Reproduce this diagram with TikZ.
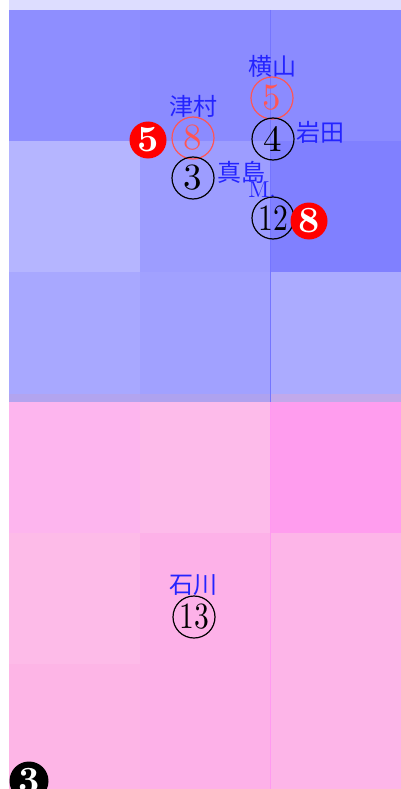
\documentclass[tikz,border=0pt]{standalone}
\usepackage{fontspec}
\usepackage{graphicx}
\newfontfamily\cjk{Noto Sans CJK JP}
\newcommand{\digs}[1]{\scalebox{3.7}{#1}}
\newcommand{\wdigs}[1]{\scalebox{2.96}[3.7]{#1}}
\definecolor{topstrip}{HTML}{DDDDFF}
\definecolor{ba}{HTML}{8E8EFF}
\definecolor{bb}{HTML}{8B8BFF}
\definecolor{bc}{HTML}{8B8BFF}
\definecolor{bd}{HTML}{B5B5FF}
\definecolor{be}{HTML}{9D9DFF}
\definecolor{bf}{HTML}{8080FF}
\definecolor{bg}{HTML}{A8A8FF}
\definecolor{bh}{HTML}{A1A1FF}
\definecolor{bi}{HTML}{ABABFF}
\definecolor{na}{HTML}{B2A4EF}
\definecolor{nb}{HTML}{AEA2EF}
\definecolor{nc}{HTML}{C1A9EB}
\definecolor{pa}{HTML}{FDB5EE}
\definecolor{pb}{HTML}{FDBBEA}
\definecolor{pc}{HTML}{FF9DEE}
\definecolor{pd}{HTML}{FDBBE8}
\definecolor{pe}{HTML}{FDB1E8}
\definecolor{pf}{HTML}{FDB5E8}
\definecolor{pg}{HTML}{FDB5E6}
\definecolor{ph}{HTML}{FDB1E8}
\definecolor{pi}{HTML}{FDB5E8}
\definecolor{bline}{HTML}{7575FF}
\definecolor{pline}{HTML}{FF99F0}
\definecolor{tblue}{HTML}{2424FF}
\definecolor{cred}{HTML}{FF5555}
\begin{document}
\begin{tikzpicture}[x=1pt,y=-1pt,
  cnum/.style={circle, draw, line width=1.2pt, minimum size=42pt, inner sep=0pt, font=\fontsize{10}{10}\selectfont},
  rnum/.style={cnum, draw=cred, text=cred},
  fnum/.style={circle, minimum size=37pt, inner sep=0pt, text=white, font=\bfseries\fontsize{10}{10}\selectfont},
  lbl/.style={text=tblue, inner sep=0pt, font=\cjk\fontsize{24}{24}\selectfont},
  lat/.style={text=tblue, inner sep=0pt, font=\fontsize{10}{10}\selectfont}]
\useasboundingbox (0,0) rectangle (401,789);
\fill[white] (0,0) rectangle (401,789);
\fill[topstrip] (9,0) rectangle (401,10);
% blue grid
\fill[ba] (9,10) rectangle (140,141);
\fill[bb] (140,10) rectangle (270,141);
\fill[bc] (270,10) rectangle (401,141);
\fill[bd] (9,141) rectangle (140,272);
\fill[be] (140,141) rectangle (270,272);
\fill[bf] (270,141) rectangle (401,272);
\fill[bg] (9,272) rectangle (140,394);
\fill[bh] (140,272) rectangle (270,394);
\fill[bi] (270,272) rectangle (401,394);
% overlap band
\fill[na] (9,394) rectangle (140,402);
\fill[nb] (140,394) rectangle (270,402);
\fill[nc] (270,394) rectangle (401,402);
% pink grid
\fill[pa] (9,402) rectangle (140,533);
\fill[pb] (140,402) rectangle (270,533);
\fill[pc] (270,402) rectangle (401,533);
\fill[pd] (9,533) rectangle (140,664);
\fill[pe] (140,533) rectangle (270,664);
\fill[pf] (270,533) rectangle (401,664);
\fill[pg] (9,664) rectangle (140,789);
\fill[ph] (140,664) rectangle (270,789);
\fill[pi] (270,664) rectangle (401,789);
% vertical lines
\draw[bline, line width=1pt] (270,10) -- (270,402);
\draw[pline, line width=1pt] (270,402) -- (270,789);
% labels and markers
\node[lbl] (yokoyama) at (272,66) {横山};
\node[rnum] (r5) at (272,98) {\digs{5}};
\node[cnum] (c4) at (273,139) {\digs{4}};
\node[lbl] (iwata) at (320,132) {岩田};
\node[lbl] (tsumura) at (193,106) {津村};
\node[rnum] (r8) at (193,138) {\digs{8}};
\node[fnum, fill=red] (f5) at (148,140) {\digs{5}};
\node[cnum] (c3) at (193,178) {\digs{3}};
\node[lbl] (majima) at (241,172) {真島};
\node[lat] (m) at (262,190) {\scalebox{2.3}{M.}};
\node[cnum] (c12) at (273,218) {\wdigs{12}};
\node[fnum, fill=red] (f8) at (309,221) {\digs{8}};
\node[lbl] (ishikawa) at (193,585) {石川};
\node[cnum] (c13) at (194,617) {\wdigs{13}};
\node[fnum, fill=black, minimum size=39pt] (f3) at (29,781) {\digs{3}};
\end{tikzpicture}
\end{document}
